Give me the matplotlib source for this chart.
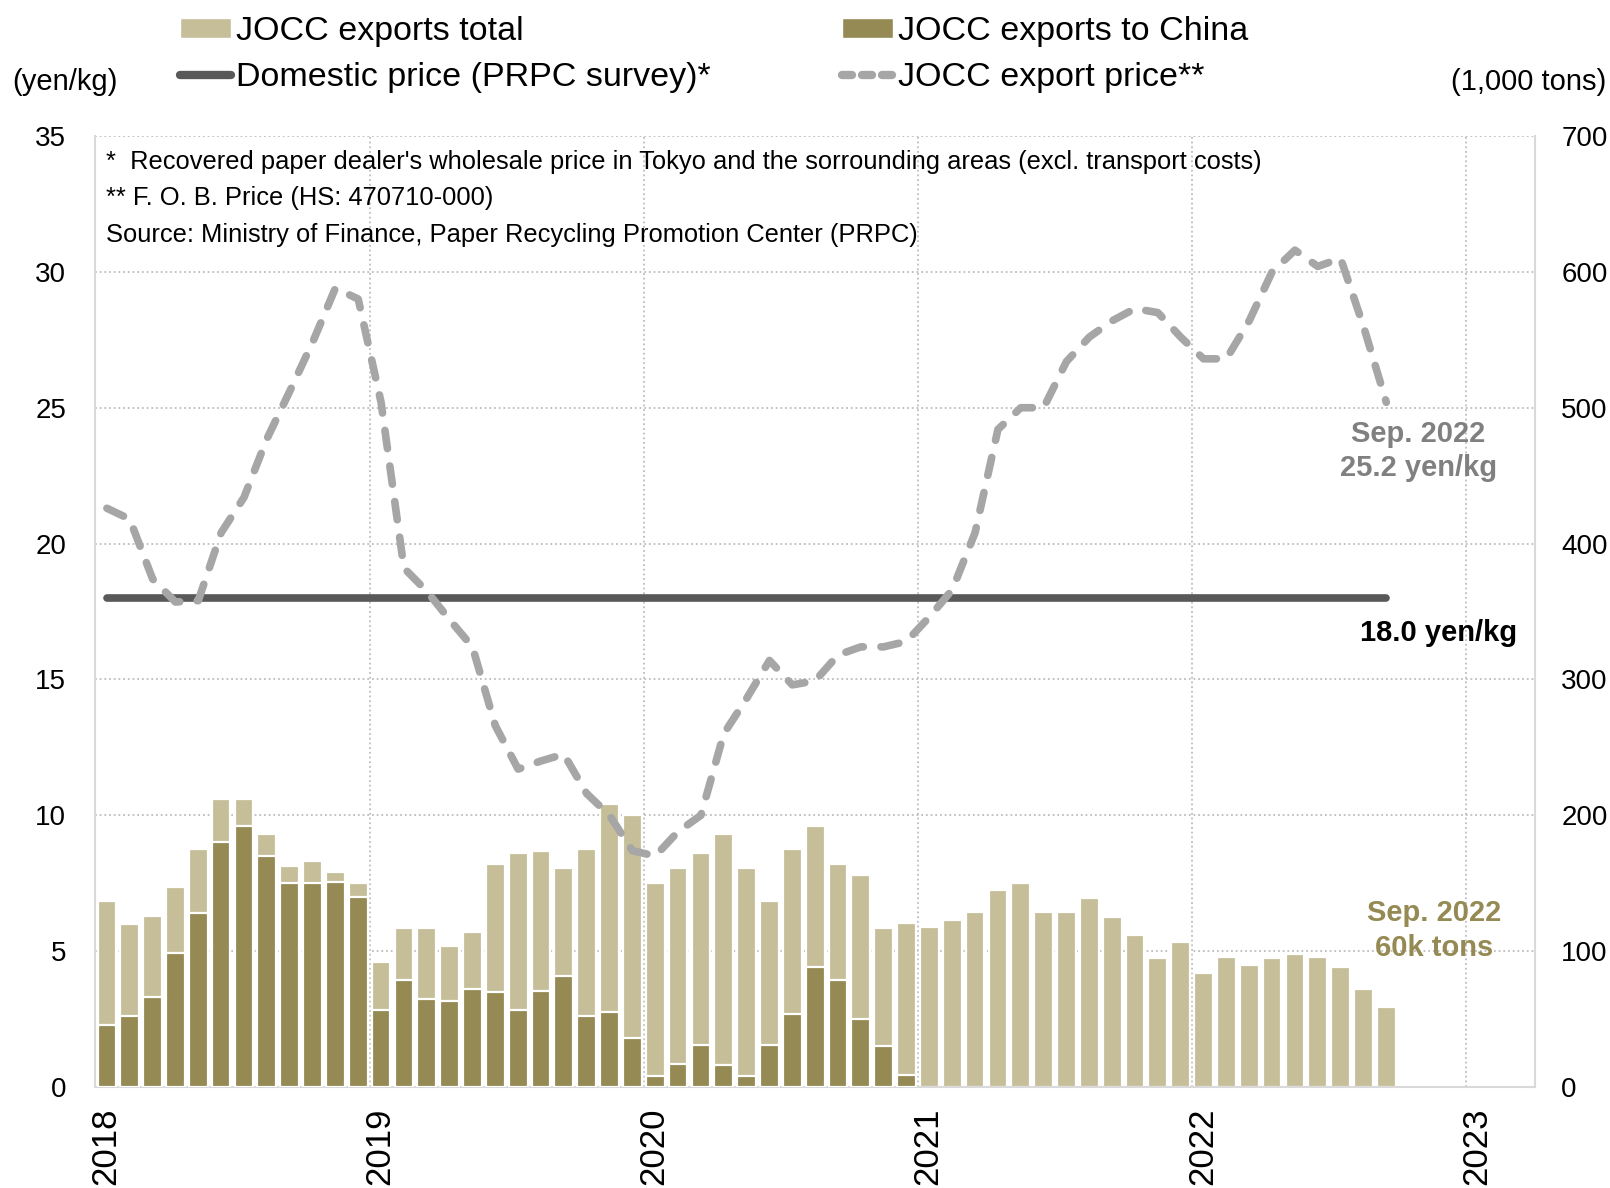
import matplotlib.pyplot as plt
from matplotlib.patches import Patch
from matplotlib.lines import Line2D
import numpy as np

# monthly data, Jan 2018 - Sep 2022
exports_total = [137, 120, 126, 147, 175, 212, 212, 186, 163, 166, 158, 150,
                 92, 117, 117, 104, 114, 164, 172, 174, 161, 175, 208, 200,
                 150, 161, 172, 186, 161, 137, 175, 192, 164, 156, 117, 121,
                 118, 123, 129, 145, 150, 129, 129, 139, 125, 112, 95, 107,
                 84, 96, 90, 95, 98, 96, 88, 72, 59]
exports_china = [46, 52, 66, 99, 128, 180, 192, 170, 150, 150, 151, 140,
                 57, 79, 65, 63, 72, 70, 57, 71, 82, 52, 55, 36,
                 8, 17, 31, 16, 8, 31, 54, 88, 79, 50, 30, 9]
export_price = [21.3, 20.9, 18.7, 17.85, 17.9, 20.4, 21.7, 23.85, 25.6, 27.4, 29.4, 29.0,
                25.2, 19.1, 18.25, 17.2, 16.2, 13.3, 11.7, 12.0, 12.25, 10.8, 10.0, 8.7,
                8.5, 9.4, 10.0, 13.0, 14.3, 15.7, 14.8, 14.95, 15.9, 16.2, 16.2, 16.4,
                17.3, 18.3, 20.4, 24.2, 25.0, 25.0, 26.7, 27.6, 28.2, 28.65, 28.5, 27.6,
                26.8, 26.8, 28.2, 30.0, 30.8, 30.2, 30.5, 28.0, 25.2]
domestic_price = [18.0] * 57
year_labels = ['2018', '2019', '2020', '2021', '2022', '2023']

FONT = ['Liberation Sans', 'DejaVu Sans']

c_total = '#C6BE98'
c_china = '#958A53'
c_dom = '#595959'
c_exp = '#A6A6A6'

x = np.arange(len(exports_total)) + 0.5
xc = np.arange(len(exports_china)) + 0.5
year_pos = np.arange(0, 61, 12)

fig = plt.figure(figsize=(16.1, 11.88), dpi=100)
ax = fig.add_axes([0.0593, 0.085, 0.894, 0.8005])
ax2 = ax.twinx()

ax.bar(x, exports_total, width=0.82, color=c_total, edgecolor='white', linewidth=1.6, zorder=2)
ax.bar(xc, exports_china, width=0.82, color=c_china, edgecolor='white', linewidth=1.6, zorder=3)
ax.set_xlim(0, 63)
ax.set_ylim(0, 700)
ax.set_yticks(range(0, 701, 100))
# gridlines on the year boundaries, labels sit a little to the right
ax.set_xticks(year_pos)
ax.set_xticklabels([])
ax.set_xticks(year_pos + 0.45, minor=True)
ax.set_xticklabels(year_labels, minor=True, rotation=90, family=FONT, fontsize=25)
ax.yaxis.tick_right()
ax.set_axisbelow(True)
ax.grid(True, which='major', ls=(0, (1, 1.6)), color='#BDBDBD', lw=1.3)
for s in ['left', 'right', 'bottom']:
    ax.spines[s].set_color('#D9D9D9')
    ax.spines[s].set_linewidth(1.5)
ax.spines['top'].set_visible(False)
ax.tick_params(axis='both', which='both', length=0)
ax.tick_params(axis='x', which='minor', pad=15)
ax.tick_params(axis='y', pad=19, labelsize=20)
for lab in ax.get_yticklabels():
    lab.set_family(FONT)

ax2.set_ylim(0, 35)
ax2.set_yticks(range(0, 36, 5))
ax2.yaxis.tick_left()
ax2.tick_params(axis='y', length=0, pad=21, labelsize=20)
for lab in ax2.get_yticklabels():
    lab.set_family(FONT)
for s in ax2.spines.values():
    s.set_visible(False)

ax2.plot(x, domestic_price, color=c_dom, lw=5.5, solid_capstyle='round', zorder=4)
ax2.plot(x, export_price, color=c_exp, lw=5.5, dashes=(2.4, 2.3), dash_capstyle='round',
         dash_joinstyle='round', zorder=5)

# notes
notes = ["*  Recovered paper dealer's wholesale price in Tokyo and the sorrounding areas (excl. transport costs)",
         "** F. O. B. Price (HS: 470710-000)",
         "Source: Ministry of Finance, Paper Recycling Promotion Center (PRPC)"]
for k, t in enumerate(notes):
    ax.text(0.0073, [0.9727, 0.9348, 0.8959][k], t, transform=ax.transAxes, va='center',
            ha='left', fontsize=18.4, family=FONT)

ax2.text(57.9, 23.4, 'Sep. 2022\n25.2 yen/kg', ha='center', va='center', fontsize=21,
         fontweight='bold', color='#808080', family=FONT, linespacing=1.25)
ax2.text(58.8, 16.7, '18.0 yen/kg', ha='center', va='center', fontsize=21,
         fontweight='bold', color='black', family=FONT)
ax.text(58.6, 115, 'Sep. 2022\n60k tons', ha='center', va='center', fontsize=21,
        fontweight='bold', color=c_china, family=FONT, linespacing=1.3, zorder=6)

fig.text(12 / 1610, 1 - 82 / 1188, '(yen/kg)', ha='left', va='center', fontsize=21, family=FONT)
fig.text(1606 / 1610, 1 - 82 / 1188, '(1,000 tons)', ha='right', va='center', fontsize=21, family=FONT)

h_total = Patch(facecolor=c_total, edgecolor='white')
h_china = Patch(facecolor=c_china, edgecolor='white')
h_dom = Line2D([], [], color=c_dom, lw=6, solid_capstyle='round')
h_exp = Line2D([], [], color=c_exp, lw=6, dashes=(1.2, 1.2), dash_capstyle='round')

leg_kw = dict(loc='upper left', frameon=False, prop={'family': FONT, 'size': 24.5},
              handlelength=1.5, handleheight=0.5, handletextpad=0.15, labelspacing=0.45,
              borderpad=0, borderaxespad=0)
fig.legend([h_total, h_dom], ['JOCC exports total', 'Domestic price (PRPC survey)*'],
           bbox_to_anchor=(180 / 1610, 1 - 16 / 1188), **leg_kw)
fig.legend([h_china, h_exp], ['JOCC exports to China', 'JOCC export price**'],
           bbox_to_anchor=(842 / 1610, 1 - 16 / 1188), **leg_kw)

fig.savefig('out.png', dpi=100)
